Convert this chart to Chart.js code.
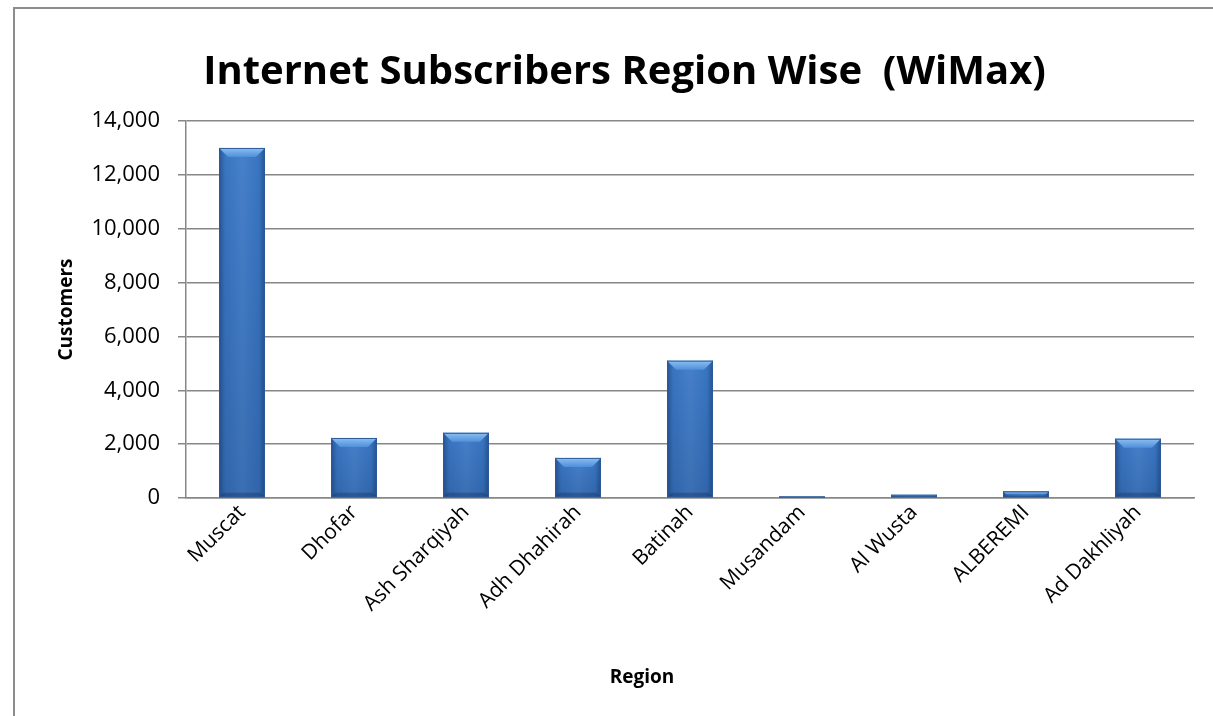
<!DOCTYPE html>
<html>
<head>
<meta charset="utf-8">
<script src="https://cdn.jsdelivr.net/npm/chart.js@4.4.1/dist/chart.umd.min.js"></script>
<style>
  html, body { margin: 0; padding: 0; background: #fff; overflow: hidden; }
  #wrap { position: relative; width: 1213px; height: 716px; }
  #frame {
    position: absolute; left: 13px; top: 7px; right: -10px; bottom: -10px;
    border-left: 2px solid #8c8c8c; border-top: 2px solid #8c8c8c;
    pointer-events: none;
  }
</style>
</head>
<body>
<div id="wrap">
  <canvas id="regionChart" width="1213" height="716"></canvas>
  <div id="frame"></div>
</div>
<script>
const regions = ['Muscat', 'Dhofar', 'Ash Sharqiyah', 'Adh Dhahirah', 'Batinah', 'Musandam', 'Al Wusta', 'ALBEREMI', 'Ad Dakhliyah'];
const subscribers = [13000, 2230, 2420, 1490, 5100, 50, 120, 250, 2200];
const yMin = 0;
const yMax = 14000;
const yStep = 2000;

const FONT = '"Open Sans", "Noto Sans", sans-serif';
const GRID = '#878787';

// shaded edges + light top bevel on every bar, using the bar element positions
const bevelBars = {
  id: 'bevelBars',
  afterDatasetsDraw(chart) {
    const ctx = chart.ctx;
    chart.getDatasetMeta(0).data.forEach(bar => {
      const left = bar.x - bar.width / 2;
      const right = bar.x + bar.width / 2;
      const top = bar.y;
      const base = bar.base;
      const h = base - top;
      if (h <= 0) return;
      const b = Math.min(9, h / 2);
      ctx.save();

      // darker left/right edges
      let g = ctx.createLinearGradient(left, 0, right, 0);
      g.addColorStop(0, 'rgba(15,40,85,0.45)');
      g.addColorStop(0.13, 'rgba(15,40,85,0.05)');
      g.addColorStop(0.5, 'rgba(255,255,255,0.06)');
      g.addColorStop(0.87, 'rgba(15,40,85,0.05)');
      g.addColorStop(1, 'rgba(15,40,85,0.45)');
      ctx.fillStyle = g;
      ctx.fillRect(left, top, right - left, h);

      // slightly darker towards the base
      g = ctx.createLinearGradient(0, top, 0, base);
      g.addColorStop(0, 'rgba(10,30,70,0)');
      g.addColorStop(1, 'rgba(10,30,70,0.18)');
      ctx.fillStyle = g;
      ctx.fillRect(left, top, right - left, h);

      // top bevel
      g = ctx.createLinearGradient(0, top, 0, top + b);
      g.addColorStop(0, '#8cc0f2');
      g.addColorStop(1, '#4f8fda');
      ctx.fillStyle = g;
      ctx.beginPath();
      ctx.moveTo(left, top);
      ctx.lineTo(right, top);
      ctx.lineTo(right - b, top + b);
      ctx.lineTo(left + b, top + b);
      ctx.closePath();
      ctx.fill();

      // bottom bevel
      ctx.fillStyle = 'rgba(20,45,90,0.35)';
      ctx.beginPath();
      ctx.moveTo(left, base);
      ctx.lineTo(right, base);
      ctx.lineTo(right - b / 2, base - b / 2);
      ctx.lineTo(left + b / 2, base - b / 2);
      ctx.closePath();
      ctx.fill();

      ctx.strokeStyle = '#2b5a97';
      ctx.lineWidth = 1;
      ctx.strokeRect(left + 0.5, top + 0.5, right - left - 1, h - 1);
      ctx.restore();
    });
  }
};

// x axis title sits a little left of the plot centre
const regionTitle = {
  id: 'regionTitle',
  afterDraw(chart) {
    const ctx = chart.ctx;
    const area = chart.chartArea;
    ctx.save();
    ctx.font = 'bold 19px ' + FONT;
    ctx.fillStyle = '#000';
    ctx.textAlign = 'center';
    ctx.textBaseline = 'middle';
    ctx.fillText('Region', (area.left + area.right) / 2 - 48, chart.scales.x.bottom - 12);
    ctx.restore();
  }
};

new Chart(document.getElementById('regionChart'), {
  type: 'bar',
  data: {
    labels: regions,
    datasets: [{
      label: 'Customers',
      data: subscribers,
      backgroundColor: '#3b79c7',
      borderWidth: 0,
      categoryPercentage: 1,
      barPercentage: 0.41
    }]
  },
  options: {
    responsive: false,
    animation: false,
    layout: { padding: { left: 55, right: 19, top: 0, bottom: 26 } },
    plugins: {
      legend: { display: false },
      tooltip: { enabled: false },
      title: {
        display: true,
        text: 'Internet Subscribers Region Wise  (WiMax)',
        color: '#000',
        font: { family: FONT, size: 40, weight: 'bold' },
        padding: { top: 49, bottom: 24 }
      }
    },
    scales: {
      x: {
        afterFit(scale) { scale.height = 192; },
        grid: { display: false, drawTicks: false },
        border: { color: GRID, width: 1.5 },
        ticks: {
          color: '#000',
          autoSkip: false,
          minRotation: 45,
          maxRotation: 45,
          padding: 2,
          font: { family: FONT, size: 21 }
        },
        title: { display: false }
      },
      y: {
        min: yMin,
        max: yMax,
        afterFit(scale) { scale.width = 131; },
        grid: { color: GRID, lineWidth: 1.5, tickLength: 8 },
        border: { color: GRID, width: 1.5 },
        ticks: {
          stepSize: yStep,
          padding: 18,
          color: '#000',
          font: { family: FONT, size: 22 },
          callback: v => v.toLocaleString('en-US')
        },
        title: {
          display: true,
          text: 'Customers',
          color: '#000',
          font: { family: FONT, size: 19, weight: 'bold' },
          padding: 0
        }
      }
    }
  },
  plugins: [bevelBars, regionTitle]
});
</script>
</body>
</html>
